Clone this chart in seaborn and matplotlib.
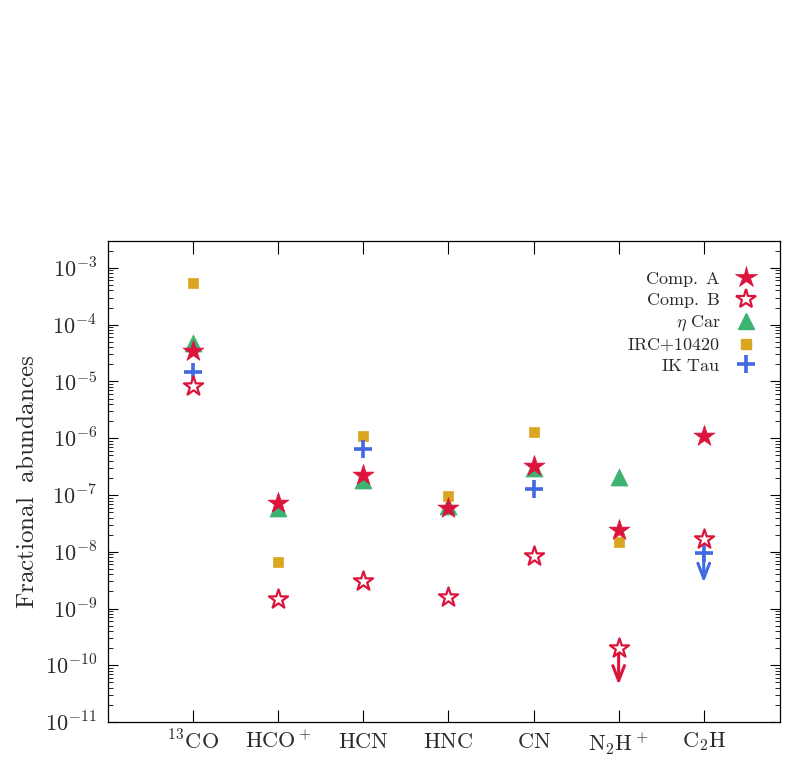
import numpy as np
import pandas as pd
import matplotlib
matplotlib.use("Agg")
import matplotlib.pyplot as plt
from matplotlib.ticker import FixedLocator, LogLocator, FuncFormatter, NullFormatter
from matplotlib.lines import Line2D
import seaborn as sns

# ---- data ----
molecules = [r"$^{13}\mathrm{CO}$", r"$\mathrm{HCO^+}$", r"$\mathrm{HCN}$", r"$\mathrm{HNC}$",
             r"$\mathrm{CN}$", r"$\mathrm{N_2H^+}$", r"$\mathrm{C_2H}$"]
comp_a    = [3.5e-5, 7.3e-8, 2.25e-7, 5.8e-8, 3.3e-7, 2.4e-8, 1.1e-6]
comp_b    = [8.3e-6, 1.5e-9, 3.0e-9, 1.57e-9, 8.6e-9, 2.0e-10, 1.68e-8]
eta_car   = [4.8e-5, 5.9e-8, 1.84e-7, 6.4e-8, 3.0e-7, 2.1e-7, np.nan]
irc_10420 = [5.3e-4, 6.5e-9, 1.1e-6, 9.5e-8, 1.3e-6, 1.48e-8, np.nan]
ik_tau    = [1.47e-5, np.nan, 6.4e-7, np.nan, 1.27e-7, np.nan, 9.5e-9]
# upper limits: (series, molecule index)
upper_limits = [("Comp. B", 5), ("IK Tau", 6)]
y_decades = [-11, -10, -9, -8, -7, -6, -5, -4, -3]

legend_labels = [r"$\mathrm{Comp.\ A}$", r"$\mathrm{Comp.\ B}$", r"$\eta\ \mathrm{Car}$",
                 r"$\mathrm{IRC{+}10420}$", r"$\mathrm{IK\ Tau}$"]

RED = "#DC143C"
GREEN = "#3CB371"
GOLD = "#DAA520"
BLUE = "#4169E1"
TEXT = "#2a2a2a"

sns.set_theme(style="ticks")
plt.rcParams["mathtext.fontset"] = "cm"
plt.rcParams["font.family"] = ["DejaVu Serif"]

x = np.arange(len(molecules))
df = pd.DataFrame({"x": x, "A": comp_a, "B": comp_b, "eta": eta_car,
                   "irc": irc_10420, "ik": ik_tau})

fig = plt.figure(figsize=(7.89, 7.57), dpi=100)
ax = fig.add_axes([0.137, 0.046, 0.852, 0.636])

sns.scatterplot(data=df, x="x", y="eta", ax=ax, marker="^", s=150, color=GREEN,
                edgecolor=GREEN, linewidth=0.5, zorder=3)
sns.scatterplot(data=df, x="x", y="irc", ax=ax, marker="s", s=55, color=GOLD,
                edgecolor=GOLD, linewidth=0.5, zorder=4)
sns.scatterplot(data=df, x="x", y="ik", ax=ax, marker="+", s=160, color=BLUE,
                linewidth=2.6, zorder=5)
sns.scatterplot(data=df, x="x", y="A", ax=ax, marker="*", s=250, color=RED,
                edgecolor=RED, linewidth=0.5, zorder=6)
sns.scatterplot(data=df, x="x", y="B", ax=ax, marker="*", s=210, facecolor="white",
                edgecolor=RED, linewidth=1.6, zorder=7)

arrow_colors = {"Comp. B": RED, "IK Tau": BLUE}
arrow_vals = {"Comp. B": comp_b, "IK Tau": ik_tau}
arrow_factor = {"Comp. B": 4.4, "IK Tau": 3.3}
for name, i in upper_limits:
    v = arrow_vals[name][i]
    ax.annotate("", xy=(x[i], v / arrow_factor[name]), xytext=(x[i], v),
                arrowprops=dict(arrowstyle="->,head_length=0.9,head_width=0.35",
                                color=arrow_colors[name], lw=2.2,
                                shrinkA=0, shrinkB=0), zorder=4)

ax.set_yscale("log")
ax.set_ylim(1e-11, 3.0e-3)
ax.set_xlim(-1.0, 6.9)
ax.set_xticks(x)
ax.set_xticklabels(molecules, fontsize=16)
ax.yaxis.set_major_locator(FixedLocator([10.0 ** d for d in y_decades]))
ax.yaxis.set_minor_locator(LogLocator(base=10, subs=np.arange(2, 10), numticks=20))
ax.yaxis.set_major_formatter(FuncFormatter(lambda v, p: r"$10^{%d}$" % int(round(np.log10(v)))))
ax.yaxis.set_minor_formatter(NullFormatter())
ax.tick_params(axis="y", which="major", direction="in", length=7, width=0.8,
               left=True, right=True, labelsize=16, pad=8, color="black", labelcolor=TEXT)
ax.tick_params(axis="y", which="minor", direction="in", length=3.5, width=0.6,
               left=True, right=True, color="black")
ax.tick_params(axis="x", which="major", direction="in", length=9, width=0.8,
               bottom=True, top=True, labelsize=16, pad=6, color="black", labelcolor=TEXT)
ax.set_xlabel("")
ax.set_ylabel(r"$\mathrm{Fractional\ \ abundances}$", fontsize=18, labelpad=4, color=TEXT)
for s in ax.spines.values():
    s.set_visible(True)
    s.set_color("black")
    s.set_linewidth(0.9)

handles = [
    Line2D([], [], linestyle="none", marker="*", markersize=16, mew=0.5, color=RED),
    Line2D([], [], linestyle="none", marker="*", markersize=14.5, mew=1.6,
           markerfacecolor="white", markeredgecolor=RED),
    Line2D([], [], linestyle="none", marker="^", markersize=12, color=GREEN),
    Line2D([], [], linestyle="none", marker="s", markersize=7, color=GOLD),
    Line2D([], [], linestyle="none", marker="+", markersize=12.5, mew=2.6, color=BLUE),
]
leg = ax.legend(handles, legend_labels, loc="upper right", bbox_to_anchor=(0.965, 0.94),
                markerfirst=False, frameon=False, fontsize=13, borderpad=0,
                borderaxespad=0, labelspacing=0.15, handlelength=1.2, handletextpad=0.8)
for t in leg.get_texts():
    t.set_color(TEXT)

fig.savefig("out.png", dpi=100)
